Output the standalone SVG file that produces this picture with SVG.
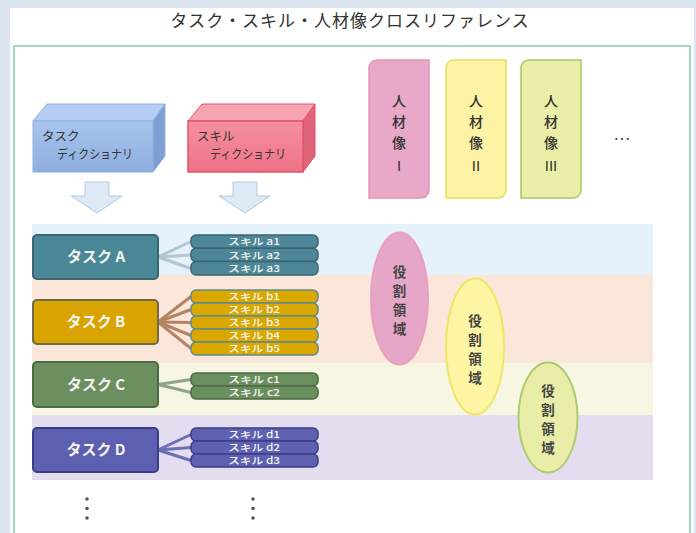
<svg xmlns="http://www.w3.org/2000/svg" width="696" height="533" viewBox="0 0 696 533">
<defs>
<style>
.jp{font-family:"Noto Sans CJK JP","Noto Sans",sans-serif;}
.title{font-size:17px;fill:#333;letter-spacing:1px;}
.dict{font-size:12.5px;fill:#333;}
.task{font-size:15px;font-weight:bold;fill:#f4f4f4;}
.pill{font-size:9.5px;fill:#f4f4f4;font-weight:500;}
.person{font-size:14px;fill:#333;font-weight:500;}
.role{font-size:13.5px;font-weight:bold;fill:#444;}
.conn{stroke-width:3;fill:none;}
.arrow{fill:#dde9f5;stroke:#b4cade;stroke-width:1;}
</style>
<linearGradient id="gTask" x1="0" y1="0" x2="0" y2="1">
<stop offset="0" stop-color="#a9c4ec"/><stop offset="1" stop-color="#8eaee0"/>
</linearGradient>
<linearGradient id="gSkill" x1="0" y1="0" x2="0" y2="1">
<stop offset="0" stop-color="#f590a0"/><stop offset="1" stop-color="#ee7287"/>
</linearGradient>
</defs>
<rect x="0" y="0" width="696" height="533" fill="#dce4ef"/>
<rect x="10" y="8" width="684" height="530" fill="#ffffff"/>
<rect x="14" y="46" width="676" height="495" fill="none" stroke="#a8d4c4" stroke-width="2"/>
<text class="jp title" x="350" y="27" text-anchor="middle">タスク・スキル・人材像クロスリファレンス</text>

<g id="bands">
<rect x="32" y="224" width="621" height="51" fill="#e6f2fb"/>
<rect x="32" y="275" width="621" height="88" fill="#fbe6da"/>
<rect x="32" y="363" width="621" height="52" fill="#f6f6e2"/>
<rect x="32" y="415" width="621" height="65" fill="#e3ddef"/>
</g>

<g id="task-dictionary">
<polygon points="33,121 47,104 165,104 153,121" fill="#b4cdf0" stroke="#8fb0e0" stroke-width="1"/>
<polygon points="153,121 165,104 165,156 153,172" fill="#7e9fd4" stroke="#8fb0e0" stroke-width="1"/>
<rect x="33" y="121" width="120" height="51" fill="url(#gTask)" stroke="#8fb0e0" stroke-width="1"/>
<text class="jp dict" x="42" y="141">タスク</text>
<text class="jp dict" x="57" y="159" textLength="76" lengthAdjust="spacingAndGlyphs">ディクショナリ</text>
</g>

<g id="skill-dictionary">
<polygon points="188,121 202,104 315,104 303,121" fill="#f6a4b2" stroke="#e25468" stroke-width="1"/>
<polygon points="303,121 315,104 315,156 303,172" fill="#e06478" stroke="#e25468" stroke-width="1"/>
<rect x="188" y="121" width="115" height="51" fill="url(#gSkill)" stroke="#e25468" stroke-width="1.5"/>
<text class="jp dict" x="197" y="141">スキル</text>
<text class="jp dict" x="210" y="159" textLength="76" lengthAdjust="spacingAndGlyphs">ディクショナリ</text>
</g>

<g id="arrows">
<path class="arrow" d="M85,182 H109 V196 H122 L97,213 L71,196 H85 Z"/>
<path class="arrow" d="M233,182 H257 V196 H270 L245,213 L219,196 H233 Z"/>
</g>

<g id="person-1">
<path d="M377,60 H429 V190 A8,8 0 0 1 421,198 H369 V68 A8,8 0 0 1 377,60 Z" fill="#e8a8c8" stroke="#e294b4" stroke-width="1.5"/>
<text class="jp person" x="399" y="106" text-anchor="middle">人</text>
<text class="jp person" x="399" y="127" text-anchor="middle">材</text>
<text class="jp person" x="399" y="148" text-anchor="middle">像</text>
<text class="person" x="399" y="171" text-anchor="middle" style="font-family:'Liberation Sans',sans-serif;font-size:15px">I</text>
</g>
<g id="person-2">
<path d="M454,60 H506 V190 A8,8 0 0 1 498,198 H446 V68 A8,8 0 0 1 454,60 Z" fill="#fcf3a4" stroke="#e6de5e" stroke-width="1.5"/>
<text class="jp person" x="476" y="106" text-anchor="middle">人</text>
<text class="jp person" x="476" y="127" text-anchor="middle">材</text>
<text class="jp person" x="476" y="148" text-anchor="middle">像</text>
<text class="person" x="476" y="171" text-anchor="middle" style="font-family:'Liberation Sans',sans-serif;font-size:15px">II</text>
</g>
<g id="person-3">
<path d="M529,60 H581 V190 A8,8 0 0 1 573,198 H521 V68 A8,8 0 0 1 529,60 Z" fill="#eaeea6" stroke="#a8c868" stroke-width="1.5"/>
<text class="jp person" x="551" y="106" text-anchor="middle">人</text>
<text class="jp person" x="551" y="127" text-anchor="middle">材</text>
<text class="jp person" x="551" y="148" text-anchor="middle">像</text>
<text class="person" x="551" y="171" text-anchor="middle" style="font-family:'Liberation Sans',sans-serif;font-size:15px">III</text>
</g>
<g id="person-more">
<text x="622" y="140" text-anchor="middle" style="font-family:'Liberation Sans',sans-serif;font-size:18px;fill:#444">…</text>
</g>

<g id="connectors">
<g stroke="#b2c6ce" class="conn">
<line x1="158" y1="257" x2="191" y2="241.5"/><line x1="158" y1="257" x2="191" y2="255"/><line x1="158" y1="257" x2="191" y2="268.5"/>
</g>
<g stroke="#b48462" class="conn">
<line x1="158" y1="322" x2="191" y2="296.5"/><line x1="158" y1="322" x2="191" y2="309.5"/><line x1="158" y1="322" x2="191" y2="322.5"/><line x1="158" y1="322" x2="191" y2="335.5"/><line x1="158" y1="322" x2="191" y2="348.5"/>
</g>
<g stroke="#8ea488" class="conn">
<line x1="158" y1="384.5" x2="191" y2="379.5"/><line x1="158" y1="384.5" x2="191" y2="392.5"/>
</g>
<g stroke="#6e6eb4" class="conn">
<line x1="158" y1="450" x2="191" y2="434.5"/><line x1="158" y1="450" x2="191" y2="447.5"/><line x1="158" y1="450" x2="191" y2="460.5"/>
</g>
</g>

<g id="task-a">
<rect x="33" y="235" width="125" height="44" rx="4" fill="#4a8797" stroke="#3a6672" stroke-width="2"/>
<text class="jp task" x="96" y="262" text-anchor="middle">タスク A</text>
</g>
<g id="task-b">
<rect x="33" y="300" width="125" height="44" rx="4" fill="#d9a300" stroke="#6e6a4a" stroke-width="2"/>
<text class="jp task" x="96" y="327" text-anchor="middle">タスク B</text>
</g>
<g id="task-c">
<rect x="33" y="362" width="125" height="45" rx="4" fill="#6b8f5f" stroke="#4c6a44" stroke-width="2"/>
<text class="jp task" x="96" y="390" text-anchor="middle">タスク C</text>
</g>
<g id="task-d">
<rect x="33" y="428" width="125" height="44" rx="4" fill="#5d5fb0" stroke="#3c3d88" stroke-width="2"/>
<text class="jp task" x="96" y="455" text-anchor="middle">タスク D</text>
</g>

<g id="skills-a" fill="#4e8898" stroke="#3a6672" stroke-width="1.5">
<rect x="191" y="235" width="127" height="13.3" rx="5"/>
<rect x="191" y="248.3" width="127" height="13.3" rx="5"/>
<rect x="191" y="261.6" width="127" height="13.3" rx="5"/>
<g class="jp pill" stroke="none" text-anchor="middle">
<text x="254" y="245" textLength="52" lengthAdjust="spacingAndGlyphs">スキル a1</text><text x="254" y="258.5" textLength="52" lengthAdjust="spacingAndGlyphs">スキル a2</text><text x="254" y="271.8" textLength="52" lengthAdjust="spacingAndGlyphs">スキル a3</text>
</g>
</g>
<g id="skills-b" fill="#dba800" stroke="#5e8a90" stroke-width="1.5">
<rect x="191" y="290" width="127" height="13" rx="5"/>
<rect x="191" y="303" width="127" height="13" rx="5"/>
<rect x="191" y="316" width="127" height="13" rx="5"/>
<rect x="191" y="329" width="127" height="13" rx="5"/>
<rect x="191" y="342" width="127" height="13" rx="5"/>
<g class="jp pill" stroke="none" text-anchor="middle">
<text x="254" y="300" textLength="52" lengthAdjust="spacingAndGlyphs">スキル b1</text><text x="254" y="313" textLength="52" lengthAdjust="spacingAndGlyphs">スキル b2</text><text x="254" y="326" textLength="52" lengthAdjust="spacingAndGlyphs">スキル b3</text><text x="254" y="339" textLength="52" lengthAdjust="spacingAndGlyphs">スキル b4</text><text x="254" y="352" textLength="52" lengthAdjust="spacingAndGlyphs">スキル b5</text>
</g>
</g>
<g id="skills-c" fill="#6a8f5e" stroke="#4c6a44" stroke-width="1.5">
<rect x="191" y="373" width="127" height="13" rx="5"/>
<rect x="191" y="386" width="127" height="13" rx="5"/>
<g class="jp pill" stroke="none" text-anchor="middle">
<text x="254" y="383" textLength="52" lengthAdjust="spacingAndGlyphs">スキル c1</text><text x="254" y="396" textLength="52" lengthAdjust="spacingAndGlyphs">スキル c2</text>
</g>
</g>
<g id="skills-d" fill="#5e60b2" stroke="#3c3d88" stroke-width="1.5">
<rect x="191" y="428" width="127" height="13" rx="5"/>
<rect x="191" y="441" width="127" height="13" rx="5"/>
<rect x="191" y="454" width="127" height="13" rx="5"/>
<g class="jp pill" stroke="none" text-anchor="middle">
<text x="254" y="438" textLength="52" lengthAdjust="spacingAndGlyphs">スキル d1</text><text x="254" y="451" textLength="52" lengthAdjust="spacingAndGlyphs">スキル d2</text><text x="254" y="464" textLength="52" lengthAdjust="spacingAndGlyphs">スキル d3</text>
</g>
</g>

<g id="role-1">
<ellipse cx="399.5" cy="298.5" rx="28.5" ry="66" fill="#e6a6c8" stroke="#eaa0bc" stroke-width="2"/>
<g class="jp role" text-anchor="middle">
<text x="399.5" y="277">役</text><text x="399.5" y="296">割</text><text x="399.5" y="315">領</text><text x="399.5" y="334">域</text>
</g>
</g>
<g id="role-2">
<ellipse cx="475" cy="346.5" rx="29" ry="68" fill="#fcf5a4" stroke="#eee664" stroke-width="2"/>
<g class="jp role" text-anchor="middle">
<text x="475" y="326">役</text><text x="475" y="345">割</text><text x="475" y="364">領</text><text x="475" y="383">域</text>
</g>
</g>
<g id="role-3">
<ellipse cx="548" cy="417.5" rx="29.5" ry="55" fill="#e9eda8" stroke="#aacc72" stroke-width="2"/>
<g class="jp role" text-anchor="middle">
<text x="548" y="396">役</text><text x="548" y="415">割</text><text x="548" y="434">領</text><text x="548" y="453">域</text>
</g>
</g>

<g id="more-rows" fill="#555">
<circle cx="87" cy="499" r="1.8"/><circle cx="87" cy="508.5" r="1.8"/><circle cx="87" cy="518" r="1.8"/>
<circle cx="253" cy="499" r="1.8"/><circle cx="253" cy="508.5" r="1.8"/><circle cx="253" cy="518" r="1.8"/>
</g>
</svg>
